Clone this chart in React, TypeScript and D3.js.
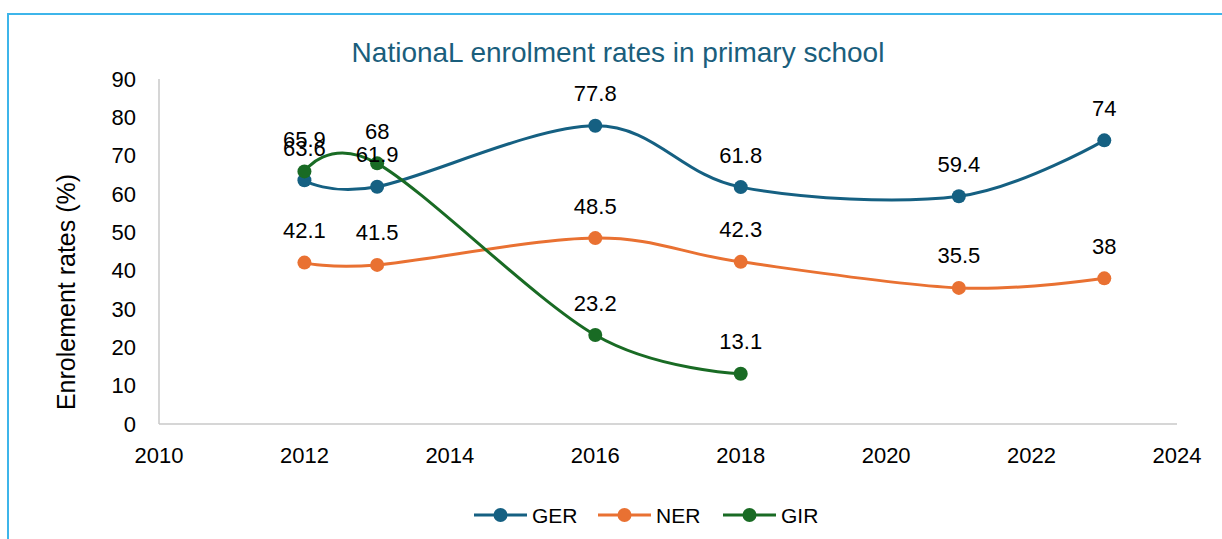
import React from 'react';
import * as d3 from 'd3';

const gerYears = [2012, 2013, 2016, 2018, 2021, 2023];
const gerValues = [63.6, 61.9, 77.8, 61.8, 59.4, 74];
const nerYears = [2012, 2013, 2016, 2018, 2021, 2023];
const nerValues = [42.1, 41.5, 48.5, 42.3, 35.5, 38];
const girYears = [2012, 2013, 2016, 2018];
const girValues = [65.9, 68, 23.2, 13.1];
const xTicks = [2010, 2012, 2014, 2016, 2018, 2020, 2022, 2024];
const yTicks = [0, 10, 20, 30, 40, 50, 60, 70, 80, 90];
const seriesNames = ['GER', 'NER', 'GIR'];
const seriesColors = ['#156082', '#E97132', '#196B24'];
const titleText = 'NationaL enrolment rates in primary school';
const yTitle = 'Enrolement rates (%)';

const FONT = '"Liberation Sans", Arial, sans-serif';

export default function App() {
  const W = 1222, H = 539;
  const x = d3.scaleLinear().domain([2010, 2024]).range([159, 1177]);
  const y = d3.scaleLinear().domain([0, 90]).range([424, 79]);
  const series = [
    { name: seriesNames[0], color: seriesColors[0], pts: gerYears.map((yr, i) => [yr, gerValues[i]] as [number, number]) },
    { name: seriesNames[1], color: seriesColors[1], pts: nerYears.map((yr, i) => [yr, nerValues[i]] as [number, number]) },
    { name: seriesNames[2], color: seriesColors[2], pts: girYears.map((yr, i) => [yr, girValues[i]] as [number, number]) },
  ];
  const line = d3.line<[number, number]>()
    .x(d => x(d[0]))
    .y(d => y(d[1]))
    .curve(d3.curveCardinal.tension(0));

  const legendX = [474, 598, 723];

  return (
    <svg width={W} height={H} style={{ position: 'absolute', left: 0, top: 0, background: '#fff' }} fontFamily={FONT}>
      <rect x={0} y={0} width={W} height={H} fill="#fff" />
      <rect x={8} y={14} width={W + 20} height={H + 20} fill="#fff" stroke="#3DB5EA" strokeWidth={2} />
      <text x={618} y={52} textAnchor="middle" dominantBaseline="central" fontSize={28} fill="#1A5E7C">{titleText}</text>
      {/* axes */}
      <line x1={x(2010)} x2={x(2010)} y1={y(90)} y2={y(0)} stroke="#C8C8C8" strokeWidth={1.5} />
      <line x1={x(2010)} x2={x(2024)} y1={y(0)} y2={y(0)} stroke="#C8C8C8" strokeWidth={1.5} />
      {yTicks.map(t => (
        <text key={t} x={136} y={y(t)} textAnchor="end" dominantBaseline="central" fontSize={22} fill="#000">{t}</text>
      ))}
      {xTicks.map(t => (
        <text key={t} x={x(t)} y={455} textAnchor="middle" dominantBaseline="central" fontSize={22} fill="#000">{t}</text>
      ))}
      <text transform={`translate(66, 292) rotate(-90)`} textAnchor="middle" dominantBaseline="central" fontSize={25} fill="#000">{yTitle}</text>
      {series.map(s => (
        <g key={s.name}>
          <path d={line(s.pts) || ''} fill="none" stroke={s.color} strokeWidth={3} />
          {s.pts.map((p, i) => (
            <circle key={i} cx={x(p[0])} cy={y(p[1])} r={7} fill={s.color} />
          ))}
        </g>
      ))}
      {series.map(s => (
        <g key={s.name + 'lbl'}>
          {s.pts.map((p, i) => (
            <text key={i} x={x(p[0])} y={y(p[1]) - 32} textAnchor="middle" dominantBaseline="central" fontSize={22} fill="#000">{p[1]}</text>
          ))}
        </g>
      ))}
      {series.map((s, i) => (
        <g key={s.name + 'leg'}>
          <line x1={legendX[i]} x2={legendX[i] + 53} y1={515} y2={515} stroke={s.color} strokeWidth={3} />
          <circle cx={legendX[i] + 26.5} cy={515} r={7} fill={s.color} />
          <text x={legendX[i] + 58} y={515} dominantBaseline="central" fontSize={21} fill="#000">{s.name}</text>
        </g>
      ))}
    </svg>
  );
}
